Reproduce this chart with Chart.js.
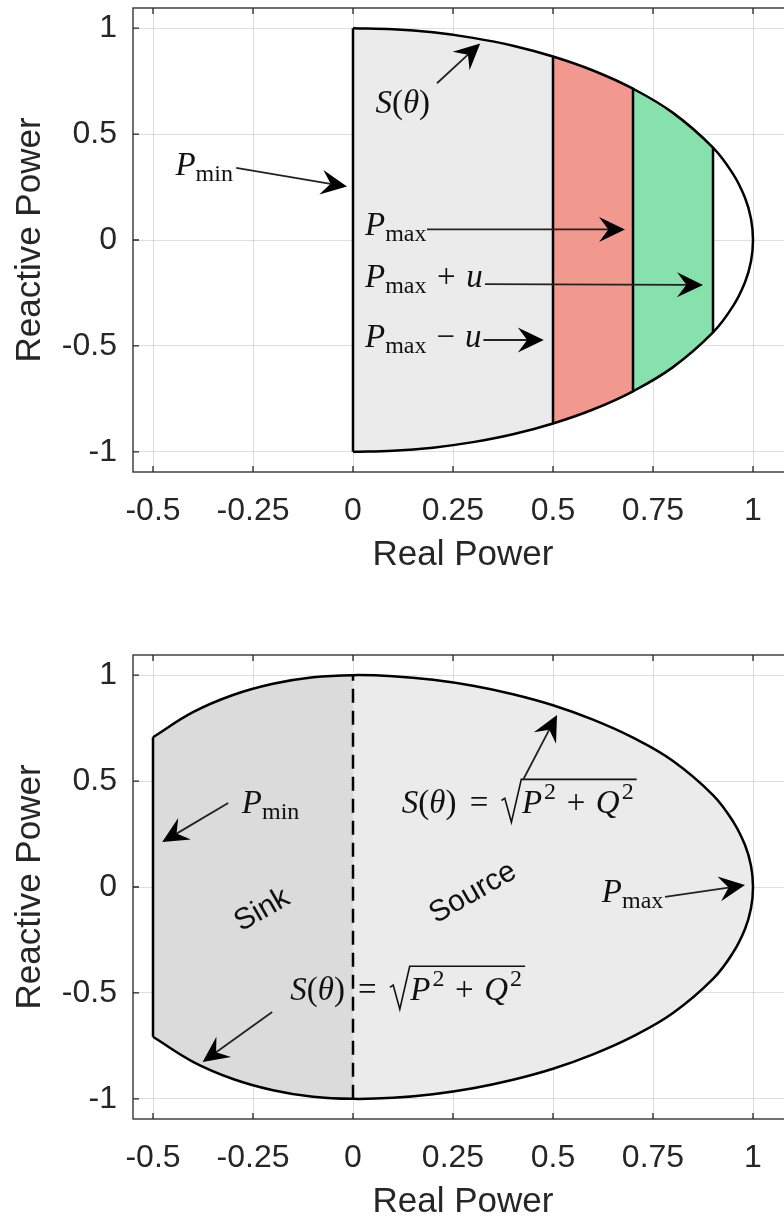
<!DOCTYPE html>
<html>
<head>
<meta charset="utf-8">
<script src="https://cdn.jsdelivr.net/npm/chart.js@4"></script>
<style>
    html, body { margin: 0; padding: 0; background: #fff; overflow: hidden; }
    canvas { display: block; }
</style>
</head>
<body>
<canvas id="topChart" width="800" height="573"></canvas>
<canvas id="bottomChart" width="800" height="647"></canvas>
<script>
// axis ticks (same on both plots)
const xTicks = [-0.5, -0.25, 0, 0.25, 0.5, 0.75, 1];
const yTicks = [-1, -0.5, 0, 0.5, 1];

// top plot: upper half of S(theta) boundary
const capP = [0, 0.1, 0.2, 0.3, 0.4, 0.5, 0.6, 0.7, 0.8, 0.9, 0.95, 0.98, 0.995, 1];
const capQ = [1, 0.995, 0.98, 0.954, 0.917, 0.866, 0.8, 0.714, 0.6, 0.436, 0.312, 0.199, 0.1, 0];
const bandEdges = [0, 0.5, 0.7, 0.9];          // Pmin, Pmax-u, Pmax, Pmax+u
const bandColors = ['#ebebeb', '#f2998f', '#87e1ac'];

// bottom plot: sink side (P < 0) and source side (P >= 0), upper half
const sinkP = [-0.5, -0.4, -0.3, -0.2, -0.1, 0];
const sinkQ = [0.707, 0.825, 0.906, 0.959, 0.99, 1];
const sourceP = [0, 0.1, 0.2, 0.3, 0.4, 0.5, 0.6, 0.7, 0.8, 0.9, 0.95, 0.98, 0.995, 1];
const sourceQ = [1, 0.995, 0.978, 0.95, 0.91, 0.858, 0.79, 0.705, 0.595, 0.434, 0.31, 0.198, 0.1, 0];
const sinkColor = '#dbdbdb';
const sourceColor = '#ebebeb';

const axisColor = '#262626';
const gridColor = 'rgba(0,0,0,0.13)';
const sans = '"Liberation Sans", Arial, sans-serif';
const serif = '"Liberation Serif", "Times New Roman", serif';
const MATH = 33;
const SMALL = 24;

// labels + arrows, positions in data units (text anchored left / baseline)
const topNotes = [
    { math: [['S', 'i'], ['(', 'r'], ['θ', 'i'], [')', 'r']], at: [0.056, 0.6] },
    { arrow: [[0.21, 0.74], [0.318, 0.928]] },
    { math: [['P', 'i'], ['min', 'sub']], at: [-0.444, 0.307] },
    { arrow: [[-0.292, 0.34], [-0.015, 0.252]] },
    { math: [['P', 'i'], ['max', 'sub']], at: [0.03, 0.024] },
    { arrow: [[0.185, 0.05], [0.68, 0.05]] },
    { math: [['P', 'i'], ['max', 'sub'], [0.32, 'sp'], ['+', 'r'], [0.32, 'sp'], ['u', 'i']], at: [0.03, -0.222] },
    { arrow: [[0.33, -0.208], [0.875, -0.212]] },
    { math: [['P', 'i'], ['max', 'sub'], [0.3, 'sp'], ['−', 'r'], [0.3, 'sp'], ['u', 'i']], at: [0.03, -0.505] },
    { arrow: [[0.326, -0.472], [0.477, -0.472]] }
];

const formula = [['S', 'i'], ['(', 'r'], ['θ', 'i'], [')', 'r'], [0.4, 'sp'], ['=', 'r'], [0.4, 'sp'],
    ['', 'sqrt('], ['P', 'i'], ['2', 'sup'], [0.32, 'sp'], ['+', 'r'], [0.32, 'sp'], ['Q', 'i'], ['2', 'sup'], ['', 'sqrt)']];

const bottomNotes = [
    { math: [['P', 'i'], ['min', 'sub']], at: [-0.278, 0.349] },
    { arrow: [[-0.312, 0.396], [-0.477, 0.212]] },
    { math: formula, at: [0.122, 0.349] },
    { arrow: [[0.425, 0.505], [0.51, 0.812]] },
    { math: formula, at: [-0.157, -0.533] },
    { arrow: [[-0.202, -0.59], [-0.376, -0.826]] },
    { math: [['P', 'i'], ['max', 'sub']], at: [0.622, -0.071] },
    { arrow: [[0.78, -0.047], [0.98, 0.009]] },
    { text: 'Sink', at: [-0.227, -0.109] },
    { text: 'Source', at: [0.3, -0.028] }
];

function pts(P, Q, sign) {
    return P.map((p, i) => ({ x: p, y: sign * Q[i] }));
}

function band(P, Q, lo, hi) {
    const p = [], q = [];
    P.forEach((v, i) => {
        if (v >= lo && v <= hi) { p.push(v); q.push(Q[i]); }
    });
    return { p, q };
}

function fillSet(P, Q, sign, color) {
    return {
        data: pts(P, Q, sign), fill: 'origin', backgroundColor: color,
        borderWidth: 0, tension: 0.4, order: 2
    };
}

function edgeSet(p, q, dash) {
    return {
        data: [{ x: p, y: -q }, { x: p, y: q }], borderColor: '#000',
        borderWidth: 2.5, borderDash: dash || [], fill: false, tension: 0, order: 0
    };
}

function outlineSet(P, Q) {
    const upper = pts(P, Q, 1);
    const lower = pts(P, Q, -1).reverse().slice(1);
    return {
        data: upper.concat(lower), borderColor: '#000', borderWidth: 2.5,
        fill: false, tension: 0.4, order: 0
    };
}

function drawArrow(ctx, x0, y0, x1, y1) {
    const ang = Math.atan2(y1 - y0, x1 - x0);
    const L = 26, W = 12.5, notch = 0.64;
    const c = Math.cos(ang), s = Math.sin(ang);
    const bx = x1 - L * notch * c, by = y1 - L * notch * s;
    ctx.strokeStyle = '#222';
    ctx.lineWidth = 1.8;
    ctx.beginPath();
    ctx.moveTo(x0, y0);
    ctx.lineTo(bx, by);
    ctx.stroke();
    ctx.fillStyle = '#000';
    ctx.beginPath();
    ctx.moveTo(x1, y1);
    ctx.lineTo(x1 - L * c + W * s, y1 - L * s - W * c);
    ctx.lineTo(bx, by);
    ctx.lineTo(x1 - L * c - W * s, y1 - L * s + W * c);
    ctx.closePath();
    ctx.fill();
}

function drawMath(ctx, x, y, parts) {
    let cx = x;
    let rootStart = null;
    ctx.fillStyle = '#111';
    ctx.textAlign = 'left';
    ctx.textBaseline = 'alphabetic';
    parts.forEach(([t, style]) => {
        if (style === 'sp') { cx += t * MATH; return; }
        if (style === 'sqrt(') { rootStart = cx; cx += 0.62 * MATH; return; }
        if (style === 'sqrt)') {
            ctx.strokeStyle = '#111';
            ctx.lineWidth = 1.6;
            ctx.beginPath();
            ctx.moveTo(rootStart, y - 0.38 * MATH);
            ctx.lineTo(rootStart + 0.1 * MATH, y - 0.45 * MATH);
            ctx.lineTo(rootStart + 0.3 * MATH, y + 0.28 * MATH);
            ctx.lineTo(rootStart + 0.6 * MATH, y - 1.02 * MATH);
            ctx.lineTo(cx + 3, y - 1.02 * MATH);
            ctx.stroke();
            return;
        }
        let dy = 0;
        if (style === 'i') ctx.font = 'italic ' + MATH + 'px ' + serif;
        else if (style === 'r') ctx.font = MATH + 'px ' + serif;
        else if (style === 'sub') { ctx.font = SMALL + 'px ' + serif; dy = 6; }
        else if (style === 'sup') { ctx.font = SMALL + 'px ' + serif; dy = -14; cx += 2; }
        ctx.fillText(t, cx, y + dy);
        cx += ctx.measureText(t).width;
    });
}

function framePlugin(notes) {
    return {
        id: 'frame',
        afterDraw(chart) {
            const { ctx, chartArea: a } = chart;
            const xs = chart.scales.x, ys = chart.scales.y;
            ctx.save();
            ctx.strokeStyle = axisColor;
            ctx.lineWidth = 1.3;
            ctx.strokeRect(a.left, a.top, a.right - a.left, a.bottom - a.top);
            // inward tick marks on every side
            ctx.beginPath();
            xTicks.forEach(v => {
                const px = xs.getPixelForValue(v);
                ctx.moveTo(px, a.bottom); ctx.lineTo(px, a.bottom - 6);
                ctx.moveTo(px, a.top); ctx.lineTo(px, a.top + 6);
            });
            yTicks.forEach(v => {
                const py = ys.getPixelForValue(v);
                ctx.moveTo(a.left, py); ctx.lineTo(a.left + 6, py);
                ctx.moveTo(a.right, py); ctx.lineTo(a.right - 6, py);
            });
            ctx.stroke();

            notes.forEach(n => {
                if (n.arrow) {
                    const [f, t] = n.arrow;
                    drawArrow(ctx, xs.getPixelForValue(f[0]), ys.getPixelForValue(f[1]),
                        xs.getPixelForValue(t[0]), ys.getPixelForValue(t[1]));
                } else if (n.math) {
                    drawMath(ctx, xs.getPixelForValue(n.at[0]), ys.getPixelForValue(n.at[1]), n.math);
                } else if (n.text) {
                    ctx.save();
                    ctx.translate(xs.getPixelForValue(n.at[0]), ys.getPixelForValue(n.at[1]));
                    ctx.rotate(-Math.PI / 6);
                    ctx.font = '30px ' + sans;
                    ctx.fillStyle = '#111';
                    ctx.textAlign = 'center';
                    ctx.textBaseline = 'middle';
                    ctx.fillText(n.text, 0, 0);
                    ctx.restore();
                }
            });
            ctx.restore();
        }
    };
}

function makeOptions(padTop) {
    return {
        responsive: false,
        animation: false,
        layout: { padding: { top: padTop, right: 7, left: 0, bottom: 0 } },
        plugins: { legend: { display: false }, tooltip: { enabled: false } },
        elements: { point: { radius: 0 } },
        scales: {
            x: {
                type: 'linear', min: -0.55, max: 1.1, z: 1,
                afterBuildTicks: s => { s.ticks = xTicks.map(v => ({ value: v })); },
                afterFit: s => { s.height = 101; s.paddingLeft = 0; s.paddingRight = 0; },
                grid: { color: gridColor, drawTicks: false },
                border: { display: false },
                ticks: {
                    font: { family: sans, size: 32 }, color: axisColor, padding: 20,
                    autoSkip: false, maxRotation: 0, minRotation: 0, callback: v => String(v)
                },
                title: {
                    display: true, text: 'Real Power', color: axisColor,
                    font: { family: sans, size: 35, lineHeight: 1.03 }, padding: { top: 0, bottom: 0 }
                }
            },
            y: {
                type: 'linear', min: -1.095, max: 1.095, z: 1,
                afterBuildTicks: s => { s.ticks = yTicks.map(v => ({ value: v })); },
                afterFit: s => { s.width = 133; s.paddingTop = 0; s.paddingBottom = 0; },
                grid: { color: gridColor, drawTicks: false },
                border: { display: false },
                ticks: {
                    font: { family: sans, size: 32 }, color: axisColor, padding: 16,
                    autoSkip: false, callback: v => String(v)
                },
                title: {
                    display: true, text: 'Reactive Power', color: axisColor,
                    font: { family: sans, size: 35, lineHeight: 1.03 }, padding: { top: 12.5, bottom: 0 }
                }
            }
        }
    };
}

function buildTop() {
    const datasets = [outlineSet(capP, capQ), edgeSet(0, capQ[0])];
    bandEdges.slice(1).forEach(p => datasets.push(edgeSet(p, capQ[capP.indexOf(p)])));
    bandColors.forEach((color, i) => {
        const b = band(capP, capQ, bandEdges[i], bandEdges[i + 1]);
        datasets.push(fillSet(b.p, b.q, 1, color));
        datasets.push(fillSet(b.p, b.q, -1, color));
    });
    new Chart(document.getElementById('topChart'), {
        type: 'line',
        data: { datasets },
        options: makeOptions(8),
        plugins: [framePlugin(topNotes)]
    });
}

function buildBottom() {
    // outline goes from the sink edge round the source side; the left edge is a straight line
    const allP = sinkP.concat(sourceP.slice(1));
    const allQ = sinkQ.concat(sourceQ.slice(1));
    const datasets = [
        outlineSet(allP, allQ),
        edgeSet(sinkP[0], sinkQ[0]),
        edgeSet(0, sourceQ[0], [14, 8]),
        fillSet(sinkP, sinkQ, 1, sinkColor),
        fillSet(sinkP, sinkQ, -1, sinkColor),
        fillSet(sourceP, sourceQ, 1, sourceColor),
        fillSet(sourceP, sourceQ, -1, sourceColor)
    ];
    new Chart(document.getElementById('bottomChart'), {
        type: 'line',
        data: { datasets },
        options: makeOptions(82),
        plugins: [framePlugin(bottomNotes)]
    });
}

window.onload = function () {
    buildTop();
    buildBottom();
};
</script>
</body>
</html>
